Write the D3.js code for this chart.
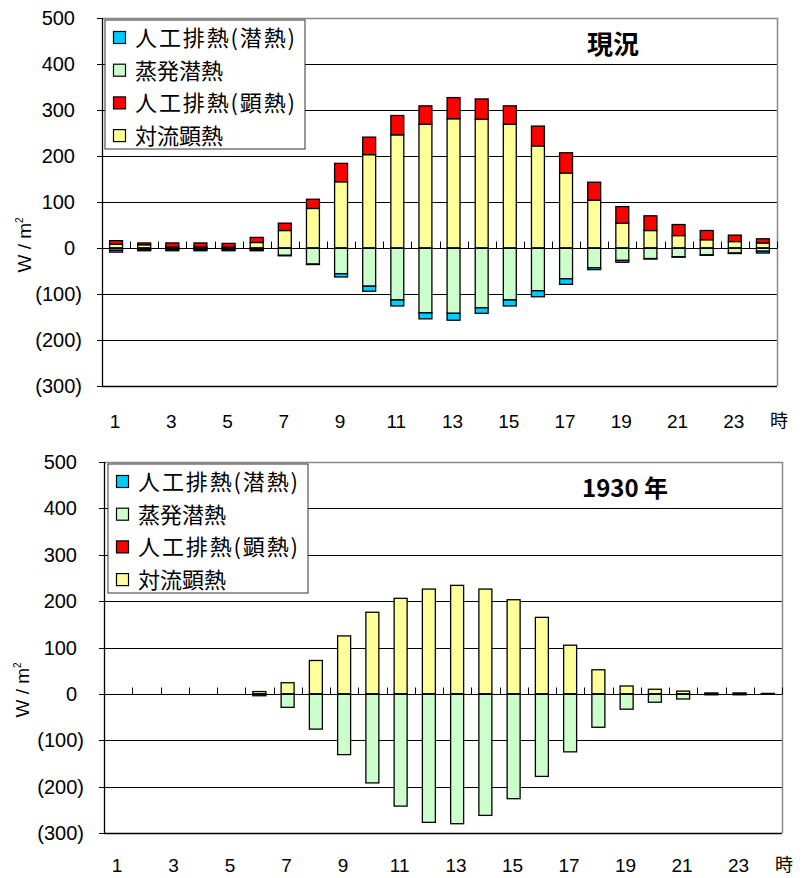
<!DOCTYPE html>
<html>
<head>
<meta charset="utf-8">
<script src="https://cdn.jsdelivr.net/npm/d3@7"></script>
<style>
  body { margin: 0; background: #fff; }
  text { font-family: "Liberation Sans", Arial, sans-serif; fill: #000; }
  .jp { font-family: "Noto Sans CJK JP", sans-serif; }
</style>
</head>
<body>
<svg id="chart" width="803" height="878"></svg>
<script>
// hours of the day
var hours = d3.range(1, 25);
var xLabels = [1, 3, 5, 7, 9, 11, 13, 15, 17, 19, 21, 23];
var yTicks = [500, 400, 300, 200, 100, 0, -100, -200, -300];

var seriesNames = ["人工排熱(潜熱)", "蒸発潜熱", "人工排熱(顕熱)", "対流顕熱"];
var seriesColors = ["#00ccff", "#ccffcc", "#ff0000", "#ffff99"];

// 現況 (W/m2)
var nowConv = [8, 7, 2, 2, 2, 12, 38, 86, 144, 203, 246, 269, 281, 280, 269, 222, 163, 104, 54, 38, 27, 18, 14, 11];
var nowSens = [8, 4, 9, 9, 8, 11, 16, 20, 40, 38, 42, 40, 46, 44, 40, 43, 44, 39, 36, 32, 24, 20, 14, 9];
var nowEvap = [-5, -3, -3, -3, -3, -4, -16, -35, -56, -83, -113, -141, -142, -130, -113, -93, -67, -43, -27, -23, -19, -15, -11, -7];
var nowLat  = [-4, -3, -3, -3, -3, -2, -1, -1, -7, -11, -13, -13, -15, -12, -13, -13, -12, -4, -4, -1, -1, -1, -1, -4];

// 1930年
var oldConv = [0, 0, 0, 0, 0, 5, 24, 72, 125, 176, 206, 226, 234, 226, 203, 165, 105, 52, 17, 10, 6, 2, 2, 1];
var oldSens = [0, 0, 0, 0, 0, 0, 0, 0, 0, 0, 0, 0, 0, 0, 0, 0, 0, 0, 0, 0, 0, 0, 0, 0];
var oldEvap = [0, 0, 0, 0, 0, -4, -29, -76, -131, -192, -242, -277, -280, -262, -226, -178, -125, -72, -33, -18, -11, -2, -2, -1];
var oldLat  = [0, 0, 0, 0, 0, 0, 0, 0, 0, 0, 0, 0, 0, 0, 0, 0, 0, 0, 0, 0, 0, 0, 0, 0];

var svg = d3.select("#chart");

function drawChart(c) {
    var g = svg.append("g");

    var x = d3.scaleBand().domain(hours).range([c.left, c.right]);
    var y = d3.scaleLinear().domain([-300, 500]).range([c.bottom, c.top]);
    var barW = x.bandwidth() * 0.46;

    // gridlines
    g.selectAll(".grid")
        .data(yTicks.filter(function(d) { return d != 0 && d != 500; }))
        .enter().append("line")
        .attr("x1", c.left).attr("x2", c.right)
        .attr("y1", function(d) { return Math.round(y(d)) + 0.5; })
        .attr("y2", function(d) { return Math.round(y(d)) + 0.5; })
        .style("stroke", "#000");

    // top + right border (gray)
    g.append("path")
        .attr("d", "M" + c.left + "," + (Math.round(y(500)) + 0.5) + "H" + (Math.round(c.right) + 0.5) + "V" + c.bottom)
        .style("fill", "none").style("stroke", "#888").style("stroke-width", 1.5);

    // legend box (drawn before bars so gridlines hide under it)
    var lg = g.append("g");
    lg.append("rect")
        .attr("x", c.legX).attr("y", c.legY).attr("width", 200).attr("height", 129)
        .style("fill", "#fff").style("stroke", "#333");
    seriesNames.forEach(function(name, i) {
        var ry = c.legY + 18 + i * 32.7;
        lg.append("rect")
            .attr("x", c.legX + 8.5).attr("y", ry - 6.5).attr("width", 12).attr("height", 12)
            .style("fill", seriesColors[i]).style("stroke", "#000").style("stroke-width", 1.2);
        var t = lg.append("text").attr("class", "jp")
            .attr("x", c.legX + 30).attr("y", ry + 8)
            .style("font-size", "22px")
            .text(name);
        if (name.indexOf("(") >= 0) t.attr("textLength", 160).attr("lengthAdjust", "spacing");
    });

    // stacked bars, positive and negative stacked separately
    var rows = hours.map(function(h, i) {
        return { hour: h, conv: c.conv[i], sens: c.sens[i], evap: c.evap[i], lat: c.lat[i] };
    });
    var keys = ["conv", "sens", "evap", "lat"];
    var keyColor = { conv: seriesColors[3], sens: seriesColors[2], evap: seriesColors[1], lat: seriesColors[0] };
    var stack = d3.stack().keys(keys).offset(d3.stackOffsetDiverging)(rows);

    g.selectAll(".layer")
        .data(stack)
        .enter().append("g")
        .style("fill", function(d) { return keyColor[d.key]; })
        .selectAll("rect")
        .data(function(d) { return d.filter(function(p) { return p[0] != p[1]; }); })
        .enter().append("rect")
        .attr("x", function(d) { return x(d.data.hour) + (x.bandwidth() - barW) / 2; })
        .attr("width", barW)
        .attr("y", function(d) { return y(Math.max(d[0], d[1])); })
        .attr("height", function(d) { return Math.abs(y(d[0]) - y(d[1])); })
        .style("stroke", "#000")
        .style("stroke-width", 1.3);

    // zero line with category ticks
    var y0 = Math.round(y(0)) + 0.5;
    g.append("line")
        .attr("x1", c.left).attr("x2", c.right).attr("y1", y0).attr("y2", y0)
        .style("stroke", "#000");
    g.selectAll(".ctick")
        .data(d3.range(1, 25))
        .enter().append("line")
        .attr("x1", function(i) { return Math.round(c.left + i * x.step()) + 0.5; })
        .attr("x2", function(i) { return Math.round(c.left + i * x.step()) + 0.5; })
        .attr("y1", y0).attr("y2", y0 - 7)
        .style("stroke", "#000");

    // left axis
    g.append("line")
        .attr("x1", c.left + 0.5).attr("x2", c.left + 0.5)
        .attr("y1", y(500)).attr("y2", c.bottom + 0.5)
        .style("stroke", "#000").style("stroke-width", 1.3);
    g.append("line")
        .attr("x1", c.left).attr("x2", c.right)
        .attr("y1", Math.round(c.bottom) + 0.5).attr("y2", Math.round(c.bottom) + 0.5)
        .style("stroke", "#000").style("stroke-width", 1.3);
    g.selectAll(".ytick")
        .data(yTicks)
        .enter().append("line")
        .attr("x1", c.left - 5).attr("x2", c.left)
        .attr("y1", function(d) { return Math.round(y(d)) + 0.5; })
        .attr("y2", function(d) { return Math.round(y(d)) + 0.5; })
        .style("stroke", "#000");
    g.selectAll(".ylab")
        .data(yTicks)
        .enter().append("text")
        .attr("x", function(d) { return d < 0 ? c.left - 20 : c.left - 27; })
        .attr("y", function(d) { return y(d) + 7; })
        .attr("text-anchor", "end")
        .style("font-size", "20px")
        .text(function(d) { return d < 0 ? "(" + (-d) + ")" : d; });

    // x labels
    g.selectAll(".xlab")
        .data(xLabels)
        .enter().append("text")
        .attr("x", function(d) { return x(d) + x.bandwidth() / 2 - 1; })
        .attr("y", c.bottom + c.xlabOff)
        .attr("text-anchor", "middle")
        .style("font-size", "19px")
        .text(function(d) { return d; });
    g.append("text").attr("class", "jp")
        .attr("x", c.right + 2).attr("y", c.bottom + c.xlabOff - 1)
        .attr("text-anchor", "middle")
        .style("font-size", "18px")
        .text("時");

    // y title W / m2
    var yt = g.append("text")
        .attr("transform", "translate(" + c.titleX + "," + c.titleY + ") rotate(-90)")
        .attr("text-anchor", "middle")
        .style("font-size", "19px");
    yt.append("tspan").text("W / m");
    yt.append("tspan").attr("dy", -8).style("font-size", "10px").text("2");

    // chart title
    g.append("text").attr("class", "jp")
        .attr("x", c.headX).attr("y", c.headY)
        .style("font-size", c.headSize)
        .style("font-weight", "bold")
        .text(c.head);
}

drawChart({
    left: 102, right: 777, top: 18, bottom: 386, xlabOff: 42,
    conv: nowConv, sens: nowSens, evap: nowEvap, lat: nowLat,
    legX: 105, legY: 20, titleX: 31, titleY: 245,
    head: "現況", headX: 587, headY: 54, headSize: "26px"
});

drawChart({
    left: 104, right: 782, top: 462, bottom: 833, xlabOff: 39,
    conv: oldConv, sens: oldSens, evap: oldEvap, lat: oldLat,
    legX: 108, legY: 464, titleX: 29, titleY: 690,
    head: "1930 年", headX: 582, headY: 497, headSize: "24px"
});
</script>
</body>
</html>
